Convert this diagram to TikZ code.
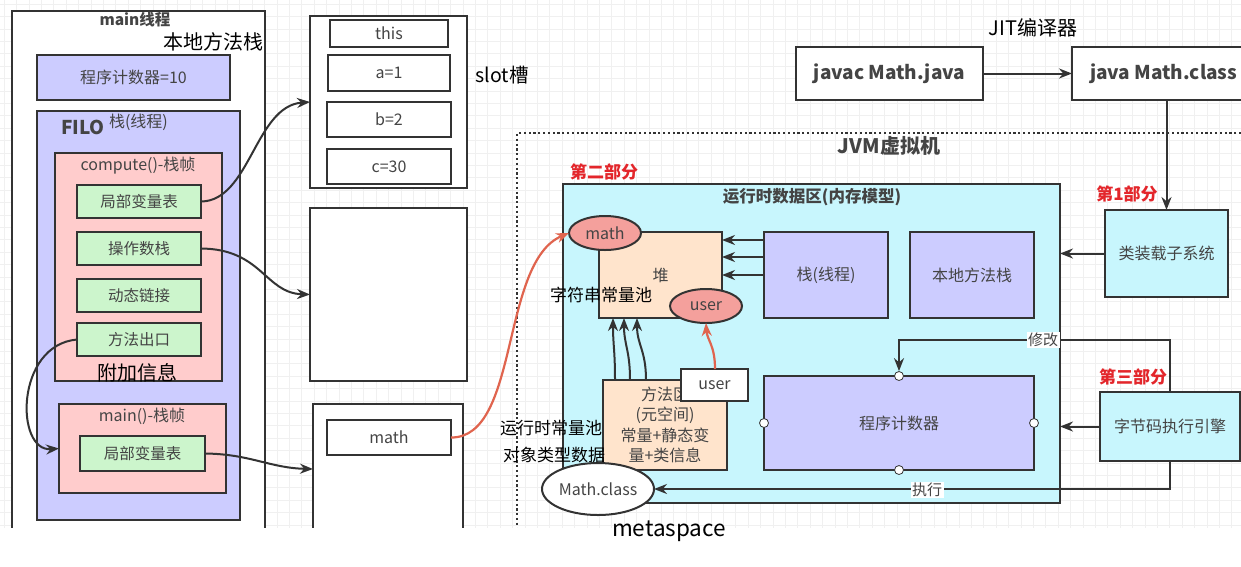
\documentclass[tikz,border=0pt]{standalone}
\usepackage{fontspec}
\setmainfont{Noto Sans CJK SC}
\usetikzlibrary{arrows.meta,shapes.geometric}
\definecolor{lav}{HTML}{CCCCFF}
\definecolor{pinkf}{HTML}{FFCCCC}
\definecolor{greenf}{HTML}{CCF5CC}
\definecolor{peach}{HTML}{FFE4CC}
\definecolor{cyanf}{HTML}{C8F6FD}
\definecolor{salmon}{HTML}{F4A09C}
\definecolor{redt}{HTML}{E3262B}
\definecolor{redl}{HTML}{E0644E}
\definecolor{ln}{HTML}{333333}
\definecolor{txt}{HTML}{444444}
\definecolor{gridc}{HTML}{F0F0F0}
\tikzset{
  base/.style={draw=ln, line width=2pt, anchor=north west, inner sep=0pt, outer sep=0pt,
    font=\fontsize{16}{19}\selectfont, text=txt},
  wbox/.style={base, fill=white},
  lbox/.style={base, fill=lav},
  pbox/.style={base, fill=pinkf},
  gbox/.style={base, fill=greenf, font=\fontsize{15.5}{18}\selectfont},
  kbox/.style={base, fill=peach},
  cbox/.style={base, fill=cyanf},
  ell/.style={draw=ln, line width=2pt, ellipse, inner sep=0pt, outer sep=0pt,
    font=\fontsize{16}{19}\selectfont, text=txt},
  lab/.style={inner sep=0pt, outer sep=0pt, font=\fontsize{16}{18}\selectfont, text=txt},
  big/.style={inner sep=0pt, outer sep=0pt, font=\fontsize{20}{22}\selectfont, text=black},
  mid/.style={inner sep=0pt, outer sep=0pt, font=\fontsize{17}{19}\selectfont, text=black},
  redlab/.style={inner sep=0pt, outer sep=0pt, font=\bfseries\fontsize{17}{19}\selectfont, text=redt},
  arr/.style={draw=ln, line width=2pt, -{Stealth[length=13pt,width=10pt]}},
  rarr/.style={draw=redl, line width=2.2pt, -{Stealth[length=13pt,width=10pt]}},
  dot/.style={circle, draw=ln, fill=white, line width=0.8pt, minimum size=9pt, inner sep=0pt},
  tagl/.style={fill=white, inner sep=1.5pt, font=\fontsize{15}{17}\selectfont, text=txt}
}
\begin{document}
\begin{tikzpicture}[x=1pt,y=-1pt]
\useasboundingbox (0,0) rectangle (1241,566);
\fill[white] (0,0) rectangle (1241,566);
\foreach \i in {0,...,100} {\draw[gridc, line width=0.6pt] (\i*12.4+4,0) -- (\i*12.4+4,528);}
\foreach \j in {0,...,42} {\draw[gridc, line width=0.6pt] (0,\j*12.4+4) -- (1241,\j*12.4+4);}

% ---------- main thread ----------
\node[wbox, minimum width=253, minimum height=535] (mainT) at (12,11) {};
\node[lab, font=\bfseries\fontsize{15.5}{18}\selectfont] (mainL) at (135,20) {main线程};
\node[big] (nativeL) at (213,42) {本地方法栈};
\node[lbox, minimum width=193, minimum height=45] (pc10) at (37,55) {程序计数器=10};
\node[lbox, minimum width=203, minimum height=409] (filo) at (37,111) {};
\node[lab, anchor=west, font=\bfseries\fontsize{19}{21}\selectfont] (filoL) at (61,127) {FILO};
\node[lab, anchor=west] (stackL) at (109,122) {栈(线程)};
\node[pbox, minimum width=167, minimum height=228] (compute) at (55,153) {};
\node[lab] (computeL) at (138,166) {compute()-栈帧};
\node[gbox, minimum width=124, minimum height=33] (lv1) at (77,185) {局部变量表};
\node[gbox, minimum width=124, minimum height=33] (op) at (77,232) {操作数栈};
\node[gbox, minimum width=124, minimum height=33] (dyn) at (77,279) {动态链接};
\node[gbox, minimum width=124, minimum height=33] (exit) at (77,323) {方法出口};
\node[big] (extraL) at (137,373) {附加信息};
\node[pbox, minimum width=167, minimum height=89] (mainF) at (59,404) {};
\node[lab] (mainFL) at (142,416) {main()-栈帧};
\node[gbox, minimum width=125, minimum height=35] (lv2) at (80,436) {局部变量表};

% ---------- frames column ----------
\node[wbox, minimum width=157, minimum height=172] (slots) at (310,16) {};
\node[wbox, minimum width=118, minimum height=27] (sThis) at (330,20) {this};
\node[wbox, minimum width=122, minimum height=36] (sA) at (328,55) {a=1};
\node[wbox, minimum width=124, minimum height=35] (sB) at (327,102) {b=2};
\node[wbox, minimum width=124, minimum height=35] (sC) at (327,149) {c=30};
\node[big, font=\fontsize{19.5}{21}\selectfont] (slotL) at (502,75) {slot槽};
\node[wbox, minimum width=157, minimum height=173] (opst) at (310,208) {};
\node[wbox, minimum width=150, minimum height=130] (mainLV) at (313,404) {};
\node[wbox, minimum width=124, minimum height=35] (sMath) at (327,420) {math};

% ---------- JVM ----------
\node[draw=ln, line width=2.2pt, dash pattern=on 2.2pt off 2.6pt, anchor=north west, inner sep=0pt,
  minimum width=800, minimum height=420] (jvm) at (516,132) {};
\node[lab, font=\bfseries\fontsize{20}{22}\selectfont] (jvmL) at (889,146) {JVM虚拟机};
\node[redlab] (part2) at (604,172) {第二部分};
\node[cbox, minimum width=497, minimum height=319] (rt) at (563,184) {};
\node[lab, font=\bfseries\fontsize{16.5}{19}\selectfont] (rtL) at (812,197) {运行时数据区(内存模型)};
\node[kbox, minimum width=123, minimum height=86] (heap) at (599,232) {堆};
\node[ell, fill=salmon, minimum width=72, minimum height=34] (mathE) at (605,233) {math};
\node[ell, fill=salmon, minimum width=72, minimum height=34] (userE) at (706,306) {user};
\node[mid] (strpool) at (601,295) {字符串常量池};
\node[lbox, minimum width=124, minimum height=86] (stk) at (764,232) {栈(线程)};
\node[lbox, minimum width=124, minimum height=86] (nat) at (910,232) {本地方法栈};
\node[kbox, minimum width=124, minimum height=90, align=center,
  font=\fontsize{16}{20.5}\selectfont] (meth) at (603,380) {方法区\\(元空间)\\常量+静态变\\量+类信息};
\node[wbox, minimum width=67, minimum height=32] (userB) at (681,369) {user};
\node[lbox, minimum width=270, minimum height=94] (pc) at (764,376) {程序计数器};
\foreach \a in {north,west,east,south} {\node[dot] (pc\a) at (pc.\a) {};}
\node[ell, fill=white, minimum width=112, minimum height=52] (mclass) at (598,489) {Math.class};
\node[mid] (rcp) at (551,428) {运行时常量池};
\node[mid] (otd) at (554,455) {对象类型数据};

% heap arrows
\coordinate (s1) at (764,240);
\coordinate (s2) at (764,257);
\coordinate (s3) at (764,275);
\draw[arr] (s1) -- (heap.east |- s1);
\draw[arr] (s2) -- (heap.east |- s2);
\draw[arr] (s3) -- (heap.east |- s3);
\coordinate (m1) at (615,380);
\coordinate (m2) at (630,380);
\coordinate (m3) at (646,380);
\coordinate (h1) at (613,318);
\coordinate (h2) at (624,318);
\coordinate (h3) at (637,318);
\draw[arr] (m1) .. controls (615,350) and (613,345) .. (h1);
\draw[arr] (m2) .. controls (630,350) and (624,345) .. (h2);
\draw[arr] (m3) .. controls (646,350) and (637,345) .. (h3);
\coordinate (ub) at (715,369);
\draw[rarr] (ub) .. controls (715,345) and (707,340) .. (userE.south);

% ---------- right column ----------
\node[lab, font=\fontsize{20}{22}\selectfont, text=black] (jitL) at (1033,28) {JIT编译器};
\node[wbox, minimum width=187, minimum height=53, font=\bfseries\fontsize{19}{21}\selectfont] (javac) at (796,47) {javac Math.java};
\node[wbox, anchor=west, minimum height=53, inner xsep=18pt, font=\bfseries\fontsize{19}{21}\selectfont] (javaC) at (1072,73.5) {java Math.class};
\draw[arr] (javac.east) -- (javaC.west);
\node[redlab] (part1) at (1127,194) {第1部分};
\node[cbox, minimum width=123, minimum height=87] (loader) at (1105,210) {类装载子系统};
\draw[arr] (loader.north |- javaC.south) -- (loader.north);
\draw[arr] (loader.west) -- (rt.east |- loader.west);
\node[redlab] (part3) at (1133,377) {第三部分};
\node[cbox, minimum width=140, minimum height=69] (engine) at (1100,392) {字节码执行引擎};
\draw[arr] (engine.west) -- (rt.east |- engine.west);
\coordinate (modY) at (0,340);
\draw[arr] (engine.north) -- (engine.north |- modY) -| (pcnorth.north);
\node[tagl] (modL) at (1043,340) {修改};
\draw[arr] (engine.south) |- (mclass.east);
\node[tagl] (exeL) at (927,490) {执行};

% ---------- left connectors ----------
\draw[arr] (lv1.east) .. controls (250,201) and (255,106) .. (slots.west);
\draw[arr] (op.east) .. controls (262,249) and (265,293) .. (opst.west);
\draw[arr] (lv2.east) .. controls (250,454) and (270,468) .. (mainLV.west);
\draw[arr] (exit.west) .. controls (15,345) and (15,452) .. (mainF.west);
\draw[rarr] (sMath.east) .. controls (520,438) and (500,262) .. (mathE.west);

% ---------- bottom strip ----------
\fill[white] (0,528) rectangle (1241,566);
\node[big, font=\fontsize{22.5}{24}\selectfont] (metaL) at (669,531) {metaspace};
\end{tikzpicture}
\end{document}
